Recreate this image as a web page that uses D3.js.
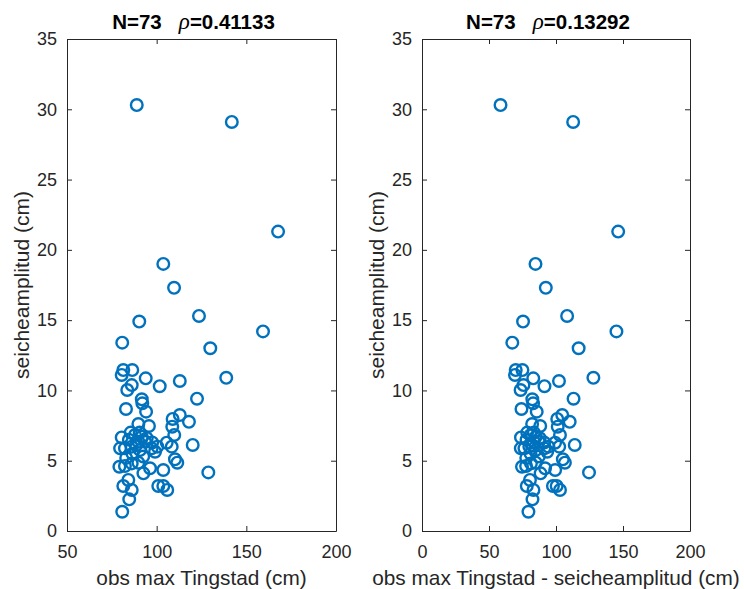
<!DOCTYPE html>
<html>
<head>
<meta charset="utf-8">
<script src="https://cdn.jsdelivr.net/npm/d3@7"></script>
<style>
  body { margin: 0; background: #fff; }
  svg { display: block; font-family: Arial, "Liberation Sans", sans-serif; }
  .tick text { fill: #262626; }
</style>
</head>
<body>
<div class="chart"></div>
<script>
// Data (obs max Tingstad vs seicheamplitud)
const obsMax = [
  88.9, 141.9, 167.7, 103.7, 109.7, 90.3, 123.6, 80.8, 159.3, 129.9,
  81.4, 86.4, 80.5, 93.9, 101.7, 112.9, 86.1, 83.6, 122.5, 91.7,
  92.0, 94.1, 82.9, 112.9, 108.9, 118.0, 95.7, 89.8, 108.7, 109.8,
  80.5, 87.9, 91.7, 89.8, 93.5, 105.6, 108.4, 120.1, 79.6, 82.3,
  86.1, 97.2, 100.4, 99.1, 90.7, 110.2, 111.5, 79.2, 82.3, 86.1,
  89.8, 96.3, 92.6, 103.7, 128.8, 84.2, 81.4, 86.1, 100.9, 103.7,
  105.9, 84.7, 80.8, 138.8, 84.5, 86.5, 88.5, 92.5, 94.5, 85.5,
  90.5, 83.0, 97.5
];
const seiche = [
  30.3, 29.1, 21.3, 19.0, 17.3, 14.9, 15.3, 13.4, 14.2, 13.0,
  11.45, 11.45, 11.1, 10.86, 10.3, 10.67, 10.38, 10.03, 9.41, 9.37,
  9.08, 8.49, 8.68, 8.25, 7.97, 7.77, 7.47, 7.61, 7.42, 6.83,
  6.66, 6.83, 6.71, 6.35, 6.35, 6.28, 6.0, 6.12, 5.88, 5.88,
  6.0, 5.88, 6.0, 5.64, 5.76, 5.1, 4.86, 4.57, 4.62, 4.81,
  4.86, 4.46, 4.1, 4.34, 4.17, 3.63, 3.2, 2.92, 3.2, 3.2,
  2.92, 2.25, 1.37, 10.9, 6.5, 5.5, 6.1, 5.3, 6.6, 7.0,
  7.0, 5.2, 6.3
];
// right panel x = obs max Tingstad - seicheamplitud (as the axis label says)
const obsMinusSeiche = obsMax.map((d, i) => d - seiche[i]);

const titles = ['0.41133', '0.13292'];
const nPoints = 73;
const xTicksLeft = [50, 100, 150, 200];
const xTicksRight = [0, 50, 100, 150, 200];
const yTicks = [0, 5, 10, 15, 20, 25, 30, 35];

const width = 744, height = 589;
const svg = d3.select('.chart').append('svg')
  .attr('width', width)
  .attr('height', height);

const panels = [
  {left: 67, right: 336, xDomain: [50, 200], xTicks: xTicksLeft, xs: obsMax,
   rho: titles[0], xLabel: 'obs max Tingstad (cm)'},
  {left: 422, right: 690, xDomain: [0, 200], xTicks: xTicksRight, xs: obsMinusSeiche,
   rho: titles[1], xLabel: 'obs max Tingstad - seicheamplitud (cm)'}
];
const plotTop = 39, plotBottom = 531;
const axisColor = '#262626';
const blue = '#0072BD';

panels.forEach(p => {
  const x = d3.scaleLinear().domain(p.xDomain).range([p.left, p.right]);
  const y = d3.scaleLinear().domain([0, 35]).range([plotBottom, plotTop]);

  // axes (box with inward ticks on all sides)
  const xAxis = d3.axisBottom(x).tickValues(p.xTicks).tickSizeInner(-5).tickSizeOuter(0).tickPadding(14);
  const gx = svg.append('g').attr('transform', `translate(0,${plotBottom})`).call(xAxis);
  svg.append('g').attr('transform', `translate(0,${plotTop})`)
    .call(d3.axisTop(x).tickValues(p.xTicks).tickSizeInner(-5).tickSizeOuter(0).tickFormat(''));
  const yAxis = d3.axisLeft(y).tickValues(yTicks).tickSizeInner(-5).tickSizeOuter(0).tickPadding(10);
  const gy = svg.append('g').attr('transform', `translate(${p.left},0)`).call(yAxis);
  svg.append('g').attr('transform', `translate(${p.right},0)`)
    .call(d3.axisRight(y).tickValues(yTicks).tickSizeInner(-5).tickSizeOuter(0).tickFormat(''));

  svg.selectAll('.domain').attr('stroke', axisColor);
  svg.selectAll('.tick line').attr('stroke', axisColor);
  gx.selectAll('text').style('font-size', '18px').attr('dy', '0.71em');
  gy.selectAll('text').style('font-size', '18px');

  // points
  svg.append('g')
    .selectAll('circle')
    .data(p.xs.map((d, i) => ({x: d, y: seiche[i]})))
    .join('circle')
    .attr('cx', d => x(d.x))
    .attr('cy', d => y(d.y))
    .attr('r', 5.8)
    .attr('fill', 'none')
    .attr('stroke', blue)
    .attr('stroke-width', 2.4);

  // title
  const cx = (p.left + p.right) / 2;
  const t = svg.append('text')
    .attr('x', cx - 8)
    .attr('y', 29)
    .attr('text-anchor', 'middle')
    .style('font-size', '20.5px')
    .style('font-weight', 'bold')
    .attr('fill', '#000');
  t.append('tspan').text(`N=${nPoints}\u00a0\u00a0\u00a0`);
  t.append('tspan').text('\u03c1')
    .style('font-family', '"Liberation Serif", serif')
    .style('font-style', 'italic')
    .style('font-weight', 'normal')
    .style('font-size', '23px');
  t.append('tspan').text(`=${p.rho}`);

  // x label
  svg.append('text')
    .attr('x', cx)
    .attr('y', 585)
    .attr('text-anchor', 'middle')
    .style('font-size', '20.8px')
    .attr('fill', axisColor)
    .text(p.xLabel);

  // y label
  svg.append('text')
    .attr('transform', `translate(${p.left - 38},${(plotTop + plotBottom) / 2}) rotate(-90)`)
    .attr('text-anchor', 'middle')
    .style('font-size', '21px')
    .attr('fill', axisColor)
    .text('seicheamplitud (cm)');
});
</script>
</body>
</html>
